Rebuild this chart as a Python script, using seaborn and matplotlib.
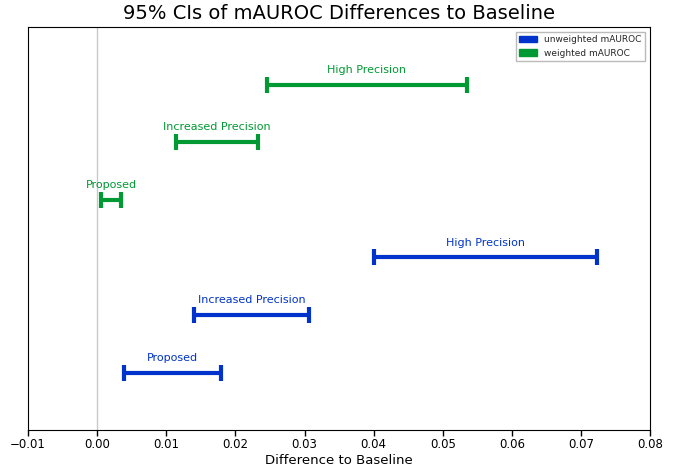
import numpy as np
import pandas as pd
import matplotlib
matplotlib.use("Agg")
import matplotlib.pyplot as plt
import matplotlib.patches as mpatches
import seaborn as sns

methods = ["Proposed", "Increased Precision", "High Precision"]
unweighted_low = [0.0039, 0.0140, 0.0401]
unweighted_high = [0.0179, 0.0307, 0.0724]
weighted_low = [0.0006, 0.0114, 0.0245]
weighted_high = [0.0035, 0.0232, 0.0535]
x_ticks = [-0.01, 0.0, 0.01, 0.02, 0.03, 0.04, 0.05, 0.06, 0.07, 0.08]

blue = "#0033cc"
green = "#009933"

rows = []
for i, m in enumerate(methods):
    rows.append({"method": m, "metric": "unweighted mAUROC", "low": unweighted_low[i],
                 "high": unweighted_high[i], "pos": i + 1})
for i, m in enumerate(methods):
    rows.append({"method": m, "metric": "weighted mAUROC", "low": weighted_low[i],
                 "high": weighted_high[i], "pos": i + 4})
df = pd.DataFrame(rows)
df["mid"] = (df["low"] + df["high"]) / 2
df["half"] = (df["high"] - df["low"]) / 2

sns.set_style("ticks")
fig = plt.figure(figsize=(6.86, 4.68), dpi=100)
ax = fig.add_axes([0.041, 0.081, 0.9065, 0.861])

ax.axvline(0, color="#c8c8c8", lw=1, zorder=0)

palette = {"unweighted mAUROC": blue, "weighted mAUROC": green}
for metric, sub in df.groupby("metric"):
    c = palette[metric]
    ax.errorbar(sub["mid"], sub["pos"], xerr=sub["half"], fmt="none", ecolor=c,
                elinewidth=3, capsize=6, capthick=3)
    for _, r in sub.iterrows():
        ax.text(r["mid"], r["pos"] + 0.17, r["method"], color=c, ha="center",
                va="bottom", fontsize=8)

ax.set_xlim(-0.01, 0.08)
ax.set_ylim(0, 7)
ax.set_yticks([])
ax.set_xticks(x_ticks)
ax.set_xticklabels([f"{v:.2f}".replace("-", "\u2212") for v in x_ticks], fontsize=8.5)
ax.tick_params(axis="x", direction="out", length=4, width=1, color="black",
               pad=2, labelcolor="black")
ax.set_xlabel("Difference to Baseline", fontsize=9.5, labelpad=2, color="black")
ax.set_title("95% CIs of mAUROC Differences to Baseline", fontsize=14, color="black")
for s in ax.spines.values():
    s.set_visible(True)
    s.set_color("black")

handles = [mpatches.Patch(color=blue, label="unweighted mAUROC"),
           mpatches.Patch(color=green, label="weighted mAUROC")]
ax.legend(handles=handles, loc="upper right", fontsize=6.5, fancybox=False,
          framealpha=1, edgecolor="#bbbbbb")

fig.savefig("out.png", dpi=100)
